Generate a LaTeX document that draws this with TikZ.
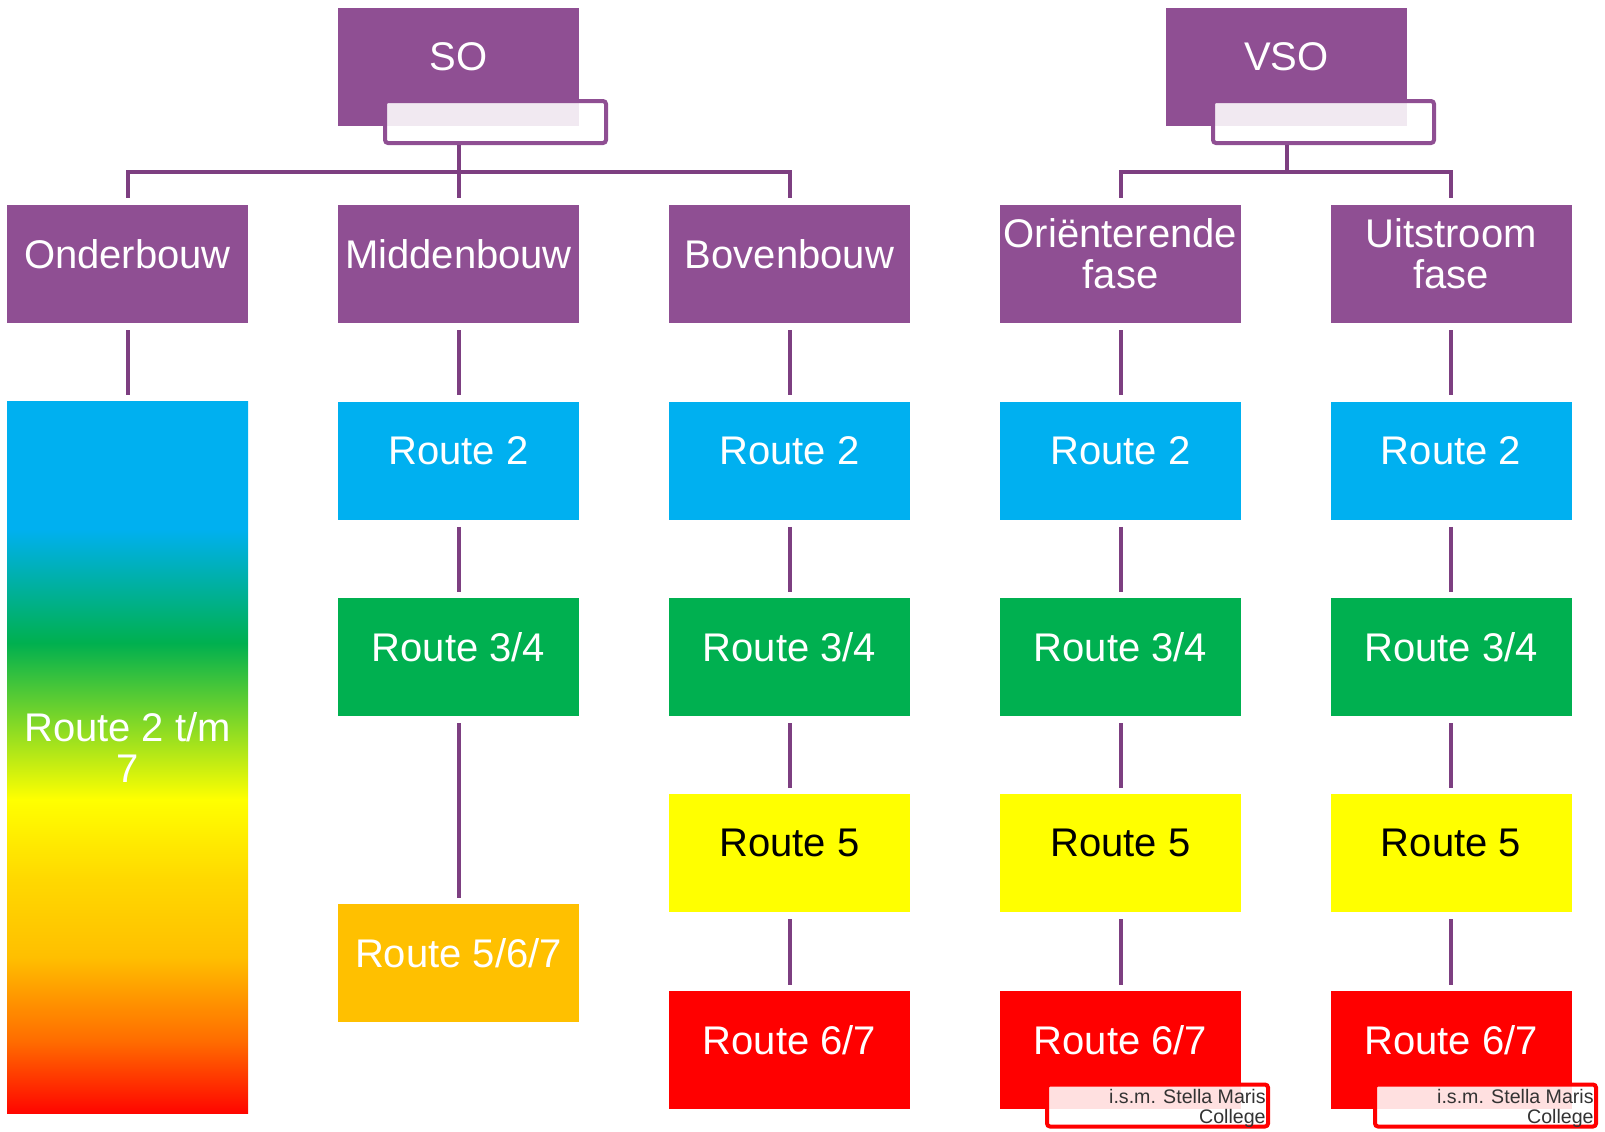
\documentclass[tikz,border=0pt]{standalone}
\usepackage{fontspec}
\setmainfont{Liberation Sans}
\definecolor{pur}{HTML}{8F4F93}
\definecolor{connc}{HTML}{7D3F81}
\definecolor{rblue}{HTML}{00B0F0}
\definecolor{rgreen}{HTML}{00B050}
\definecolor{ryellow}{HTML}{FFFF00}
\definecolor{rred}{HTML}{FF0000}
\definecolor{rorange}{HTML}{FFC000}
\definecolor{stxt}{HTML}{333333}
\pgfdeclareverticalshading{routegrad}{100bp}{rgb(0bp)=(1,0,0); rgb(25bp)=(1,0.02,0); rgb(30bp)=(1,0.42,0); rgb(36bp)=(1,0.75,0); rgb(41.5bp)=(1,0.85,0); rgb(47bp)=(1,1,0); rgb(58bp)=(0,0.69,0.31); rgb(66bp)=(0,0.69,0.94); rgb(75bp)=(0,0.69,0.94); rgb(100bp)=(0,0.69,0.94)}
\newcommand{\rbox}[6]{%
  \node[box, fill=#4] (#1) at (#2,#3) {};
  \node[txt, text=#5] (#1t) at ([yshift=5pt]#1.center) {#6};}
\begin{document}
\begin{tikzpicture}[x=0.5pt,y=-0.5pt,
  box/.style={minimum width=120.5pt, minimum height=59pt, inner sep=0pt, draw=none},
  txt/.style={font=\fontsize{20}{20.5}\selectfont, align=center, inner sep=0pt},
  conn/.style={draw=connc, line width=2pt},
  lblbox/.style={minimum width=110.5pt, minimum height=21pt, inner sep=0pt, line width=2pt, rounded corners=1.5pt, fill=white, fill opacity=0.88},
  smalltxt/.style={font=\fontsize{9.8}{10}\selectfont, align=right, inner sep=0pt, text=stxt, anchor=north east}]
\useasboundingbox (0,0) rectangle (1605,1131);

% top level
\rbox{SO}{458.5}{67}{pur}{white}{SO}
\rbox{VSO}{1286.5}{67}{pur}{white}{VSO}
\node[lblbox, draw=pur] (SOl) at (495.5,122) {};
\node[lblbox, draw=pur] (VSOl) at (1323.5,122) {};

% second level
\rbox{Ond}{127.5}{264}{pur}{white}{Onderbouw}
\rbox{Mid}{458.5}{264}{pur}{white}{Middenbouw}
\rbox{Bov}{789.5}{264}{pur}{white}{Bovenbouw}
\rbox{Ori}{1120.5}{264}{pur}{white}{Oriënterende\\fase}
\rbox{Uit}{1451}{264}{pur}{white}{Uitstroom\\fase}

% gradient column
\node[box, minimum height=356pt, shade, shading=routegrad] (Grad) at (127.5,757) {};
\node[txt, text=white] (Gradt) at ([yshift=5pt]Grad.center) {Route 2 t/m\\7};

% Middenbouw column
\rbox{M2}{458.5}{460.5}{rblue}{white}{Route 2}
\rbox{M34}{458.5}{657}{rgreen}{white}{Route 3/4}
\rbox{M567}{458.5}{963}{rorange}{white}{Route 5/6/7}

% Bovenbouw column
\rbox{B2}{789.5}{460.5}{rblue}{white}{Route 2}
\rbox{B34}{789.5}{657}{rgreen}{white}{Route 3/4}
\rbox{B5}{789.5}{853}{ryellow}{black}{Route 5}
\rbox{B67}{789.5}{1050}{rred}{white}{Route 6/7}

% Orienterende column
\rbox{O2}{1120.5}{460.5}{rblue}{white}{Route 2}
\rbox{O34}{1120.5}{657}{rgreen}{white}{Route 3/4}
\rbox{O5}{1120.5}{853}{ryellow}{black}{Route 5}
\rbox{O67}{1120.5}{1050}{rred}{white}{Route 6/7}

% Uitstroom column
\rbox{U2}{1451}{460.5}{rblue}{white}{Route 2}
\rbox{U34}{1451}{657}{rgreen}{white}{Route 3/4}
\rbox{U5}{1451}{853}{ryellow}{black}{Route 5}
\rbox{U67}{1451}{1050}{rred}{white}{Route 6/7}

% Stella Maris labels
\node[lblbox, draw=rred] (OSt) at (1157.5,1105.5) {};
\node[lblbox, draw=rred] (USt) at (1485.5,1105.5) {};
\node[smalltxt] (OStt) at ([xshift=-2pt,yshift=-3pt]OSt.north east) {i.s.m. Stella Maris\\College};
\node[smalltxt] (UStt) at ([xshift=-2pt,yshift=-3pt]USt.north east) {i.s.m. Stella Maris\\College};

% connectors top
\draw[conn, shorten >=3.5pt] (SO.center |- SOl.south) -- (Mid.north);
\draw[conn, shorten <=3.5pt, shorten >=3.5pt] (Ond.north) -- ++(0,-33) -| (Bov.north);
\draw[conn, shorten >=16.5pt] (VSO.center |- VSOl.south) -- (VSO.center |- Ori.north);
\draw[conn, shorten <=3.5pt, shorten >=3.5pt] (Ori.north) -- ++(0,-33) -| (Uit.north);

% vertical connectors
\foreach \a/\b in {Ond/Grad, Mid/M2, M2/M34, M34/M567,
                   Bov/B2, B2/B34, B34/B5, B5/B67,
                   Ori/O2, O2/O34, O34/O5, O5/O67,
                   Uit/U2, U2/U34, U34/U5, U5/U67}
  \draw[conn, shorten <=3.5pt, shorten >=3pt] (\a.south) -- (\b.north);
\end{tikzpicture}
\end{document}
